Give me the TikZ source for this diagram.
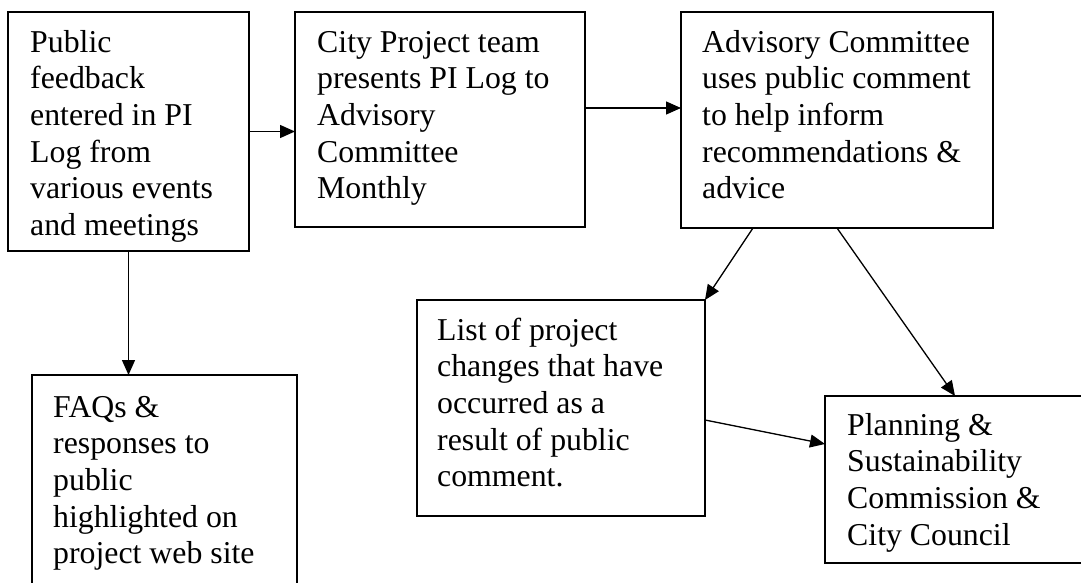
\documentclass[tikz,border=0pt]{standalone}
\usepackage{fontspec}
\setmainfont{Liberation Serif}
\usetikzlibrary{arrows.meta,calc}
\tikzset{
  box/.style={draw=black, line width=1.8pt, rectangle, anchor=north west, inner sep=0pt, outer sep=0pt},
  txt/.style={anchor=north west, inner sep=0pt, align=left, font=\fontsize{31.8pt}{36.6pt}\selectfont},
  arr/.style={line width=1.3pt, -{Triangle[length=15pt,width=13pt]}},
}
\newcommand{\firstline}{\rule{0pt}{30pt}}
\begin{document}
\begin{tikzpicture}[x=1pt,y=-1pt]
\useasboundingbox (0,0) rectangle (1081,583);
% boxes
\node[box, minimum width=241pt, minimum height=239pt] (b1) at (8,12) {};
\node[box, minimum width=290pt, minimum height=215pt] (b2) at (295,12) {};
\node[box, minimum width=312pt, minimum height=216pt] (b3) at (681,12) {};
\node[box, minimum width=265pt, minimum height=230pt] (faq) at (32,375) {};
\node[box, minimum width=288pt, minimum height=216pt] (list) at (417,300) {};
\node[box, minimum width=270pt, minimum height=167pt] (plan) at (825,396) {};
% texts
\node[txt] (b1t) at (30,22) {\firstline Public\\feedback\\entered in PI\\Log from\\various events\\and meetings};
\node[txt] (b2t) at (317,22) {\firstline City Project team\\presents PI Log to\\Advisory\\Committee\\Monthly};
\node[txt] (b3t) at (702,22) {\firstline Advisory Committee\\uses public comment\\to help inform\\recommendations \&\\advice};
\node[txt] (faqt) at (53,387) {\firstline FAQs \&\\responses to\\public\\highlighted on\\project web site};
\node[txt] (listt) at (437,310) {\firstline List of project\\changes that have\\occurred as a\\result of public\\comment.};
\node[txt] (plant) at (847,405) {\firstline Planning \&\\Sustainability\\Commission \&\\City Council};
% connectors
\draw[arr] (b1.east) -- (b1.east -| b2.west);
\draw[arr] ([yshift=11.5pt]b2.east) coordinate (a2) -- (a2 -| b3.west);
\draw[arr] (b1.south) -- (b1.south |- faq.north);
\draw[arr] ([xshift=72pt]b3.south west) -- (list.north east);
\draw[arr] ([xshift=156pt]b3.south west) -- ([xshift=130pt]plan.north west);
\draw[arr] ([yshift=-120pt]list.north east) -- ([yshift=-48pt]plan.north west);
\end{tikzpicture}
\end{document}
